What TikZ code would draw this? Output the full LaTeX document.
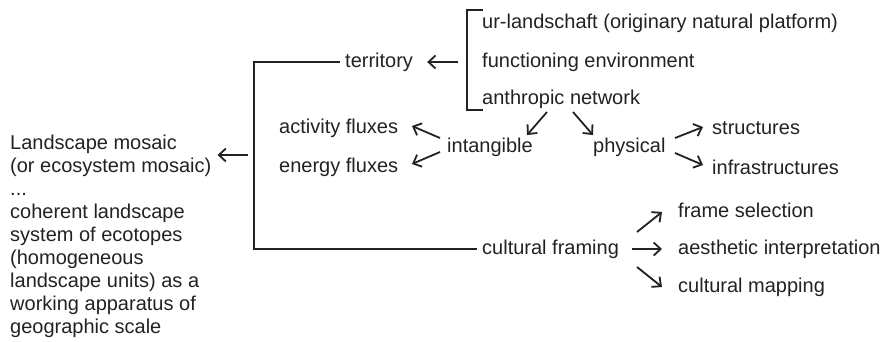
\documentclass[tikz,border=0pt]{standalone}
\usepackage{fontspec}
\setmainfont{Liberation Sans}
\usetikzlibrary{arrows.meta,positioning}
\definecolor{ink}{HTML}{222222}

\begin{document}
\begin{tikzpicture}[x=1pt,y=-1pt,>={Straight Barb[length=7pt,width=13pt]},
    every node/.style={inner sep=0pt,text=ink,font=\fontsize{20}{23}\selectfont},
    lbl/.style={anchor=west},
    wire/.style={draw=ink,line width=1.8pt},
    arr/.style={wire,->}]

    \useasboundingbox (0,0) rectangle (887,341);

    % left block
    \node[anchor=north west,align=left] (mosaic) at (10,135) {Landscape mosaic\\(or ecosystem mosaic)\\...\\coherent landscape\\system of ecotopes\\(homogeneous\\landscape units) as a\\working apparatus of\\geographic scale};

    % territory branch
    \node[lbl] (territory) at (345,62) {territory};
    \node[lbl] (ur) at (482,23) {ur-landschaft (originary natural platform)};
    \node[lbl] (func) at (482,62) {functioning environment};
    \node[lbl] (anth) at (482,99) {anthropic network};
    \node[lbl] (intang) at (447,147) {intangible};
    \node[lbl] (phys) at (593,147) {physical};
    \node[lbl] (activ) at (279,128) {activity fluxes};
    \node[lbl] (energy) at (279,167) {energy fluxes};
    \node[lbl] (struct) at (712,128) {structures};
    \node[lbl] (infra) at (712,167) {infrastructures};

    % cultural branch
    \node[lbl] (cult) at (482,249) {cultural framing};
    \node[lbl] (frame) at (678,210) {frame selection};
    \node[lbl] (aesth) at (678,249) {aesthetic interpretation};
    \node[lbl] (mapping) at (678,287) {cultural mapping};

    % arrow ends
    \coordinate (spine) at (254,155);
    \coordinate (brk) at (458,62);
    \coordinate (anthL) at (547,112);
    \coordinate (anthR) at (573,112);
    \coordinate (intangN) at (527,135);
    \coordinate (physN) at (593,135);
    \coordinate (intangU) at (440,138);
    \coordinate (intangD) at (440,152);
    \coordinate (activE) at (412,126);
    \coordinate (energyE) at (412,164);
    \coordinate (physU) at (675,138);
    \coordinate (physD) at (675,153);
    \coordinate (structW) at (703,127);
    \coordinate (infraW) at (703,165);
    \coordinate (cultU) at (637,232);
    \coordinate (cultD) at (637,267);
    \coordinate (frameW) at (662,212);
    \coordinate (mappingW) at (662,287);

    % bracket
    \draw[wire] (483,10) -- (467,10) -- (467,110) -- (483,110);

    \draw[wire,shorten <=5pt,shorten >=5pt] (territory.west) -| (spine) |- (cult.west);
    \draw[arr,shorten <=6pt,shorten >=6pt] (spine) -- (spine -| mosaic.east);
    \draw[arr,shorten >=14pt] (brk) -- (territory.east);

    \draw[arr] (anthL) -- (intangN);
    \draw[arr] (anthR) -- (physN);
    \draw[arr] (intangU) -- (activE);
    \draw[arr] (intangD) -- (energyE);
    \draw[arr] (physU) -- (structW);
    \draw[arr] (physD) -- (infraW);
    \draw[arr] (cultU) -- (frameW);
    \draw[arr,shorten <=13pt,shorten >=16pt] (cult.east) -- (aesth.west);
    \draw[arr] (cultD) -- (mappingW);

\end{tikzpicture}
\end{document}
